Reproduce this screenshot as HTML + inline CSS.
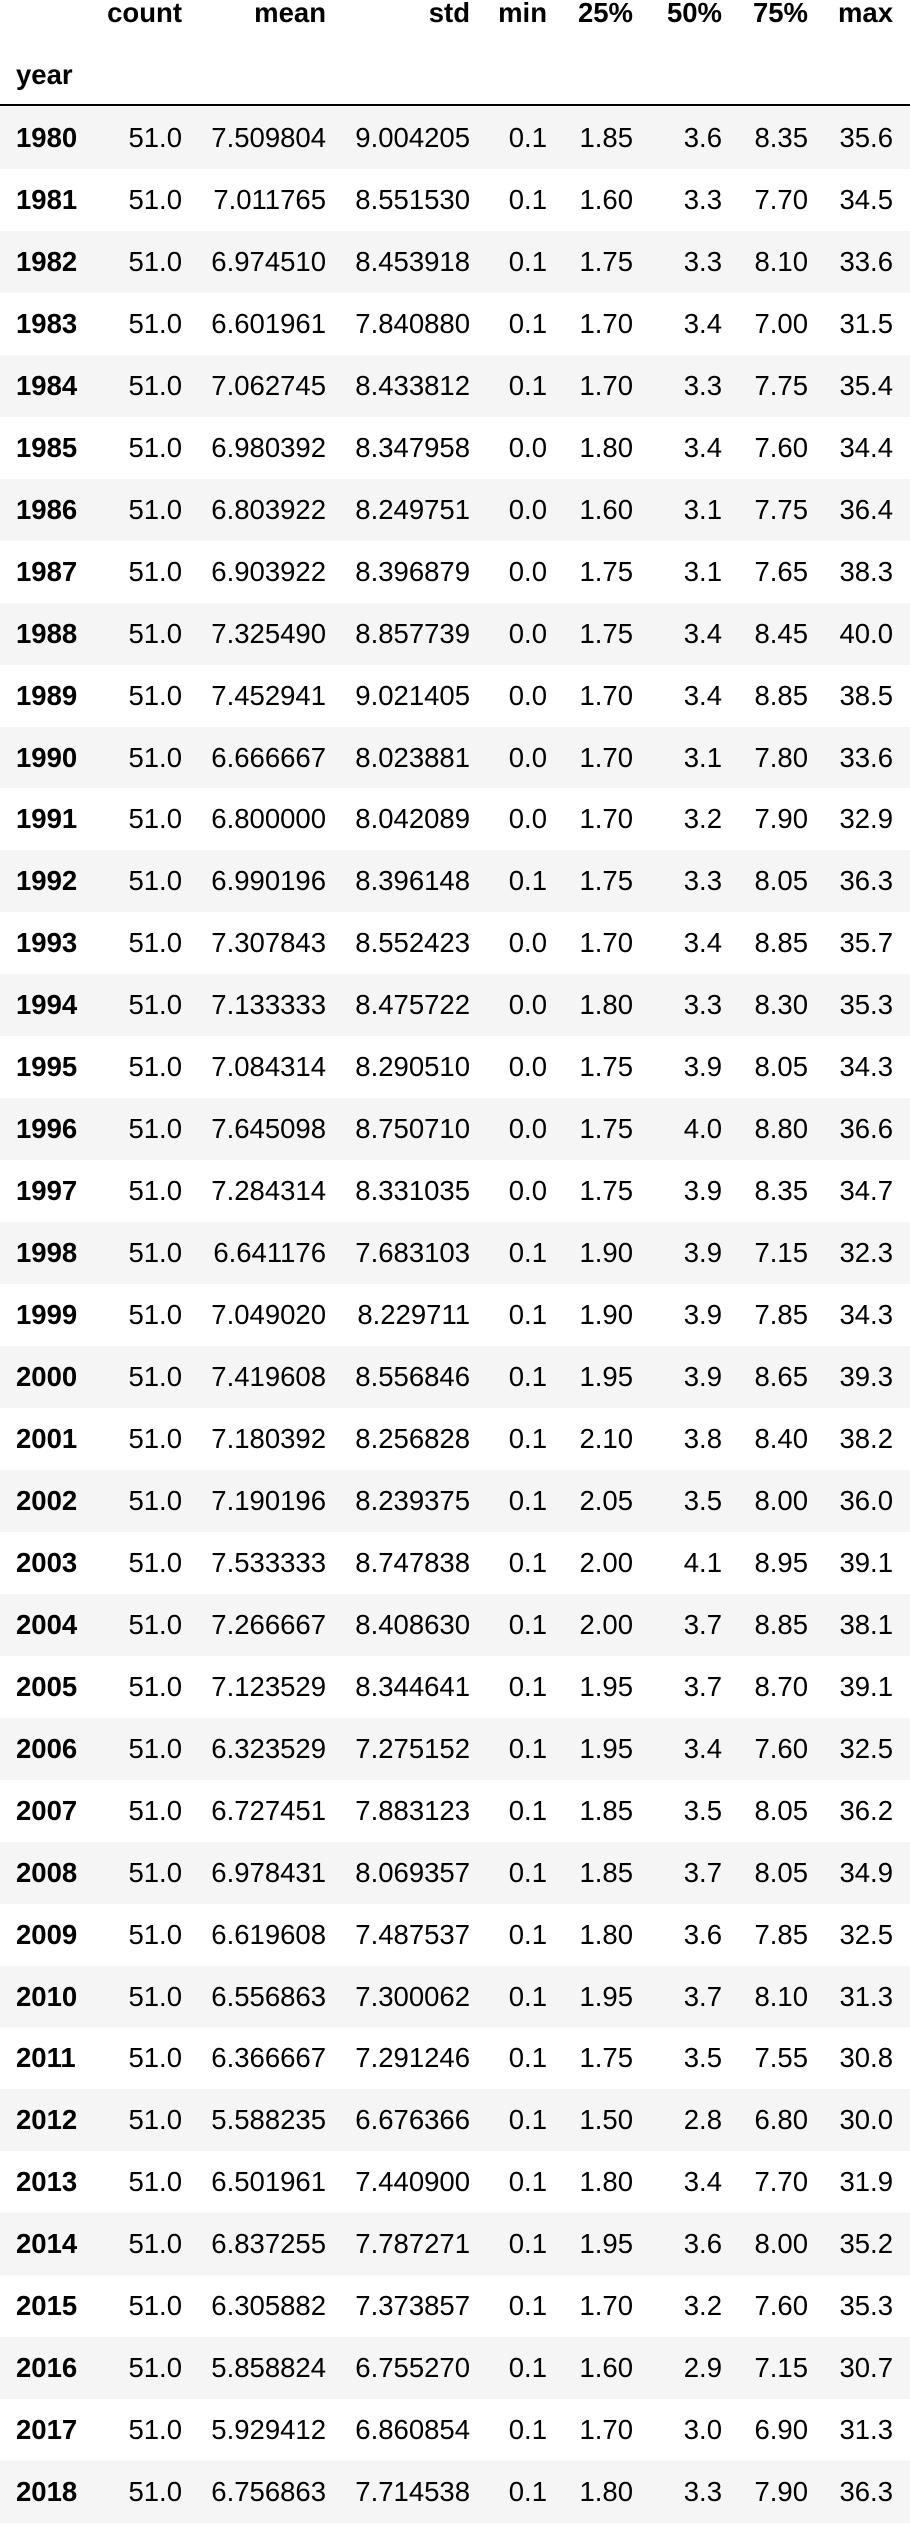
<!DOCTYPE html>
<html><head><meta charset="utf-8">
<style>
html,body{margin:0;padding:0;background:#fff;}
body{width:910px;height:2525px;position:relative;overflow:hidden;font-family:"Liberation Sans",Arial,sans-serif;font-size:27.5px;color:#000;}
.t{position:absolute;white-space:nowrap;line-height:32px;height:32px;}
.b{font-weight:bold;}
.r{text-align:right;}
.row{position:absolute;left:0;width:910px;height:62px;}
</style></head>
<body>
<div id="hdr-line" style="position:absolute;left:0;top:104px;width:910px;height:2px;background:#000;"></div>
<script>
const years=[1980,1981,1982,1983,1984,1985,1986,1987,1988,1989,1990,1991,1992,1993,1994,1995,1996,1997,1998,1999,2000,2001,2002,2003,2004,2005,2006,2007,2008,2009,2010,2011,2012,2013,2014,2015,2016,2017,2018];
const columns=["count","mean","std","min","25%","50%","75%","max"];
const countVals=["51.0","51.0","51.0","51.0","51.0","51.0","51.0","51.0","51.0","51.0","51.0","51.0","51.0","51.0","51.0","51.0","51.0","51.0","51.0","51.0","51.0","51.0","51.0","51.0","51.0","51.0","51.0","51.0","51.0","51.0","51.0","51.0","51.0","51.0","51.0","51.0","51.0","51.0","51.0"];
const meanVals=["7.509804","7.011765","6.974510","6.601961","7.062745","6.980392","6.803922","6.903922","7.325490","7.452941","6.666667","6.800000","6.990196","7.307843","7.133333","7.084314","7.645098","7.284314","6.641176","7.049020","7.419608","7.180392","7.190196","7.533333","7.266667","7.123529","6.323529","6.727451","6.978431","6.619608","6.556863","6.366667","5.588235","6.501961","6.837255","6.305882","5.858824","5.929412","6.756863"];
const stdVals=["9.004205","8.551530","8.453918","7.840880","8.433812","8.347958","8.249751","8.396879","8.857739","9.021405","8.023881","8.042089","8.396148","8.552423","8.475722","8.290510","8.750710","8.331035","7.683103","8.229711","8.556846","8.256828","8.239375","8.747838","8.408630","8.344641","7.275152","7.883123","8.069357","7.487537","7.300062","7.291246","6.676366","7.440900","7.787271","7.373857","6.755270","6.860854","7.714538"];
const minVals=["0.1","0.1","0.1","0.1","0.1","0.0","0.0","0.0","0.0","0.0","0.0","0.0","0.1","0.0","0.0","0.0","0.0","0.0","0.1","0.1","0.1","0.1","0.1","0.1","0.1","0.1","0.1","0.1","0.1","0.1","0.1","0.1","0.1","0.1","0.1","0.1","0.1","0.1","0.1"];
const q25Vals=["1.85","1.60","1.75","1.70","1.70","1.80","1.60","1.75","1.75","1.70","1.70","1.70","1.75","1.70","1.80","1.75","1.75","1.75","1.90","1.90","1.95","2.10","2.05","2.00","2.00","1.95","1.95","1.85","1.85","1.80","1.95","1.75","1.50","1.80","1.95","1.70","1.60","1.70","1.80"];
const q50Vals=["3.6","3.3","3.3","3.4","3.3","3.4","3.1","3.1","3.4","3.4","3.1","3.2","3.3","3.4","3.3","3.9","4.0","3.9","3.9","3.9","3.9","3.8","3.5","4.1","3.7","3.7","3.4","3.5","3.7","3.6","3.7","3.5","2.8","3.4","3.6","3.2","2.9","3.0","3.3"];
const q75Vals=["8.35","7.70","8.10","7.00","7.75","7.60","7.75","7.65","8.45","8.85","7.80","7.90","8.05","8.85","8.30","8.05","8.80","8.35","7.15","7.85","8.65","8.40","8.00","8.95","8.85","8.70","7.60","8.05","8.05","7.85","8.10","7.55","6.80","7.70","8.00","7.60","7.15","6.90","7.90"];
const maxVals=["35.6","34.5","33.6","31.5","35.4","34.4","36.4","38.3","40.0","38.5","33.6","32.9","36.3","35.7","35.3","34.3","36.6","34.7","32.3","34.3","39.3","38.2","36.0","39.1","38.1","39.1","32.5","36.2","34.9","32.5","31.3","30.8","30.0","31.9","35.2","35.3","30.7","31.3","36.3"];

const series=[countVals,meanVals,stdVals,minVals,q25Vals,q50Vals,q75Vals,maxVals];
const rightEdges=[182,326,470,547,633,722,808,893];
const rowTop=107, rowH=61.95;

function mk(cls,txt,style){const d=document.createElement('div');d.className=cls;d.textContent=txt;d.style.cssText=style;document.body.appendChild(d);return d;}

columns.forEach((c,i)=>{
  const d=mk('t b r',c,'right:'+(910-rightEdges[i])+'px;top:-3px;');
  
  
});
const yl=mk('t b','year','left:16px;top:59px;');



years.forEach((y,r)=>{
  const top=rowTop+r*rowH;
  const row=document.createElement('div');
  row.className='row';
  row.style.top=top+'px';
  row.style.background=(r%2===0)?'#f5f5f5':'#ffffff';
  
  
  document.body.appendChild(row);
  const ty=top+15;
  const yc=mk('t b',String(y),'left:16px;top:'+ty+'px;');
  
  
  series.forEach((s,i)=>{
    const c=mk('t r',s[r],'right:'+(910-rightEdges[i])+'px;top:'+ty+'px;');
    
    
  });
});
</script>
</body></html>
